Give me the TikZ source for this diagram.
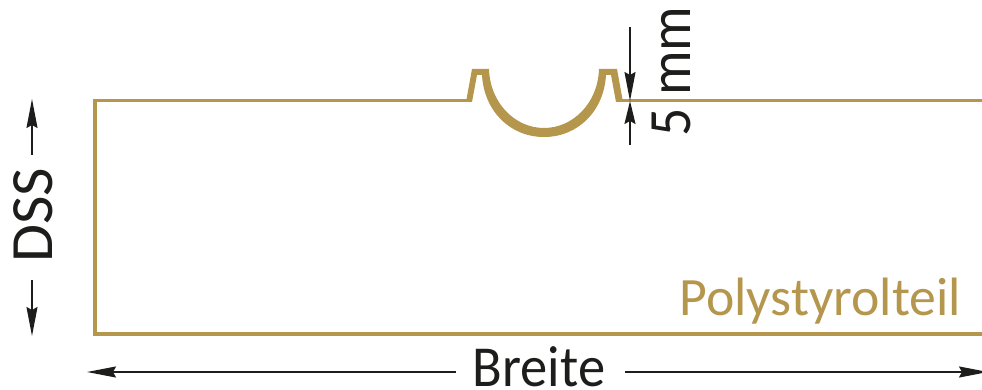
\documentclass[tikz,border=0pt]{standalone}
\usepackage{fontspec}
\setmainfont{Carlito}
\usetikzlibrary{arrows.meta}
\definecolor{gold}{HTML}{B4964C}
\definecolor{ink}{HTML}{1D1D1B}
\tikzset{
  dim/.style={draw=ink,line width=1.6pt,-{Stealth[length=29pt,width=11pt,inset=3pt]}},
  dimshort/.style={draw=ink,line width=1.6pt,-{Stealth[length=23pt,width=11pt,inset=3pt]}},
  profile/.style={draw=gold,line width=3.4pt,miter limit=10},
  lbl/.style={text=ink,inner sep=0pt,font=\fontsize{58}{58}\selectfont},
  gl/.style={text=gold,inner sep=0pt,font=\fontsize{54}{54}\selectfont}
}
\begin{document}
\begin{tikzpicture}[x=1pt,y=-1pt]
\useasboundingbox (0,0) rectangle (982,390);
% profile outline
\draw[profile] (990,334) -- (95,334) -- (95,100.5) -- (468,100.5);
\draw[profile] (621,100.5) -- (990,100.5);
\fill[gold] (466,102) -- (472,69) -- (489,69)
  .. controls (490,103) and (515,128) .. (544,128)
  .. controls (573,128) and (598,103) .. (599,69)
  -- (617,69) -- (623,102) -- (616,102) -- (611,75) -- (606,75)
  .. controls (604,111) and (578,137) .. (544,137)
  .. controls (510,137) and (484,111) .. (482,75)
  -- (477,75) -- (472,102) -- cycle;
% labels
\node[lbl,rotate=90,font=\fontsize{60}{60}\selectfont] (dss) at (33,215) {\scalebox{1.03}[1]{DSS}};
\node[lbl,rotate=90,font=\fontsize{60}{60}\selectfont] (mm) at (671,71.5) {\scalebox{0.93}[1]{5 mm}};
\node[lbl,anchor=base] (breite) at (539,386) {\scalebox{0.94}[1]{Breite}};
\node[gl,anchor=base east] (poly) at (961,315) {\scalebox{0.995}[1]{Polystyrolteil}};
% coordinates
\coordinate (dt) at (32,155);
\coordinate (dtt) at (32,99);
\coordinate (db) at (32,280);
\coordinate (dbt) at (32,336);
\coordinate (mt) at (630,27);
\coordinate (mtt) at (630,101);
\coordinate (mb) at (630,145);
\coordinate (mbt) at (630,101);
\coordinate (bl) at (455.5,372);
\coordinate (blt) at (87,372);
\coordinate (br) at (625,372);
\coordinate (brt) at (988,372);
\draw[dim] (dt) -- (dtt);
\draw[dim] (db) -- (dbt);
\draw[dim] (mt) -- (mtt);
\draw[dimshort] (mb) -- (mbt);
\draw[dim] (bl) -- (blt);
\draw[dim] (br) -- (brt);
\end{tikzpicture}
\end{document}
